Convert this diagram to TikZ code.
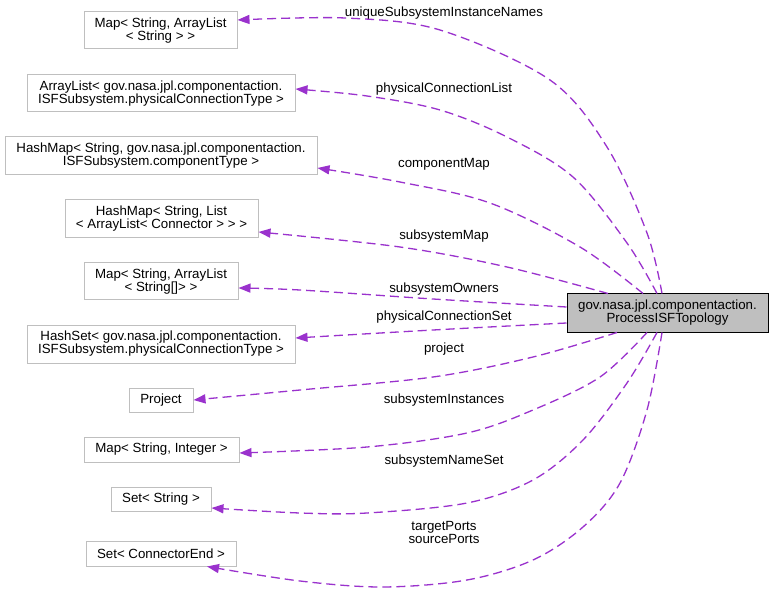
\documentclass[tikz,border=0pt]{standalone}
\usepackage{fontspec}
\setmainfont{Liberation Sans}
\usetikzlibrary{arrows.meta}
\definecolor{edgec}{HTML}{9A32CD}
\definecolor{boxc}{HTML}{BFBFBF}
\begin{document}
\begin{tikzpicture}[x=1pt,y=-1pt,
  every node/.style={font=\fontsize{13.3}{13}\selectfont, inner sep=0pt, align=center},
  cls/.style={draw=boxc, line width=1pt, fill=white},
  mainbox/.style={draw=black, line width=1pt, fill=boxc},
  edge/.style={draw=edgec, line width=1.3pt, dash pattern=on 9pt off 5pt, -{Triangle[length=12pt,width=9pt]}},
  lbl/.style={}]
\useasboundingbox[fill=white] (0,0) rectangle (773,593);

\node[mainbox, minimum width=201pt, minimum height=38pt] (main) at (667.5,313) {gov.nasa.jpl.componentaction.\\ProcessISFTopology};

\node[cls, minimum width=153pt, minimum height=37pt] (uisn) at (160.5,30.5) {Map< String, ArrayList\\< String > >};
\node[cls, minimum width=268pt, minimum height=37pt] (pcl) at (161,93.5) {ArrayList< gov.nasa.jpl.componentaction.\\ISFSubsystem.physicalConnectionType >};
\node[cls, minimum width=312pt, minimum height=38pt] (cm) at (161,156) {HashMap< String, gov.nasa.jpl.componentaction.\\ISFSubsystem.componentType >};
\node[cls, minimum width=193pt, minimum height=38pt] (sm) at (161.5,219) {HashMap< String, List\\< ArrayList< Connector > > >};
\node[cls, minimum width=154pt, minimum height=37pt] (so) at (161,281.5) {Map< String, ArrayList\\< String[]> >};
\node[cls, minimum width=268pt, minimum height=38pt] (pcs) at (161,344) {HashSet< gov.nasa.jpl.componentaction.\\ISFSubsystem.physicalConnectionType >};
\node[cls, minimum width=64pt, minimum height=24pt] (proj) at (161,400) {Project};
\node[cls, minimum width=155pt, minimum height=25pt] (si) at (161.5,449.5) {Map< String, Integer >};
\node[cls, minimum width=100pt, minimum height=24pt] (sns) at (161,499) {Set< String >};
\node[cls, minimum width=150pt, minimum height=25pt] (ce) at (161,553.5) {Set< ConnectorEnd >};

\draw[edge] plot[smooth, tension=0.55] coordinates {([xshift=-5.5pt]main.north) (647,233) (607,147) (550,80) (440,30) (345,18) ([yshift=10.5pt]uisn.east)};
\draw[edge] plot[smooth, tension=0.55] coordinates {([xshift=-10.5pt]main.north) (627,243) (573,177) (507,137) (440,110) (367,96) ([yshift=4.5pt]pcl.east)};
\draw[edge] plot[smooth, tension=0.55] coordinates {([xshift=-24.5pt]main.north) (580,247) (490,203) (400,182) ([yshift=-12pt]cm.east)};
\draw[edge] plot[smooth, tension=0.55] coordinates {([xshift=-59.5pt]main.north) (507,267) (400,247) ([yshift=-13pt]sm.east)};
\draw[edge] plot[smooth, tension=0.55] coordinates {([yshift=6pt]main.west) (433,299) (300,290) ([yshift=-6.5pt]so.east)};
\draw[edge] plot[smooth, tension=0.55] coordinates {([yshift=-10pt]main.west) (433,330) ([yshift=6pt]pcs.east)};
\draw[edge] plot[smooth, tension=0.55] coordinates {([xshift=-50.5pt]main.south) (533,357) (433,377) (300,390) (proj.east)};
\draw[edge] plot[smooth, tension=0.55] coordinates {([xshift=-20.5pt]main.south) (600,377) (533,410) (467,433) (367,447) ([yshift=-3.5pt]si.east)};
\draw[edge] plot[smooth, tension=0.55] coordinates {([xshift=-10.5pt]main.south) (627,383) (583,440) (533,480) (467,503) (367,513) (300,513) ([yshift=-9pt]sns.east)};
\draw[edge] plot[smooth, tension=0.55] coordinates {([xshift=-5.5pt]main.south) (647,410) (620,483) (583,527) (533,560) (467,580) (383,587) (300,581) ([xshift=46pt]ce.south)};

\node[lbl] (l1) at (444,13) {uniqueSubsystemInstanceNames};
\node[lbl] (l2) at (444,89) {physicalConnectionList};
\node[lbl] (l3) at (444,164) {componentMap};
\node[lbl] (l4) at (444,236) {subsystemMap};
\node[lbl] (l5) at (444,289) {subsystemOwners};
\node[lbl] (l6) at (444,317) {physicalConnectionSet};
\node[lbl] (l7) at (444,349) {project};
\node[lbl] (l8) at (444,400) {subsystemInstances};
\node[lbl] (l9) at (444,461) {subsystemNameSet};
\node[lbl] (l10) at (444,532.5) {targetPorts\\sourcePorts};
\end{tikzpicture}
\end{document}
